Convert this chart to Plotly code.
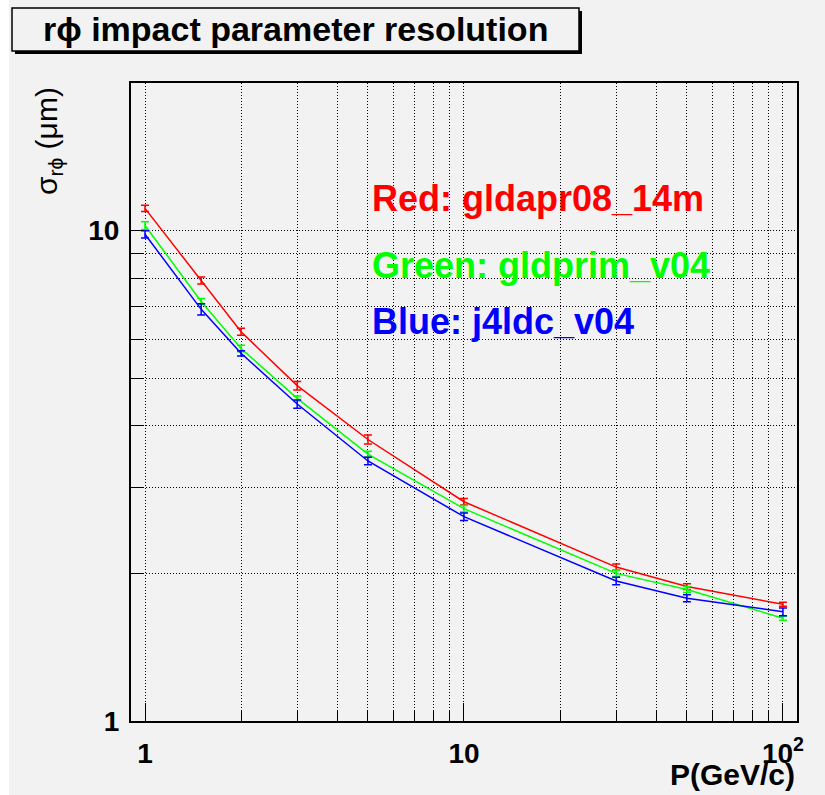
import math
import plotly.graph_objects as go

# Track momentum (GeV/c)
momentum = [1, 1.5, 2, 3, 5, 10, 30, 50, 100]

# r-phi impact parameter resolution (um) and its uncertainty per detector model
sigma_gldapr08_14m = [11.1, 7.91, 6.22, 4.83, 3.75, 2.80, 2.06, 1.88, 1.73]
err_gldapr08_14m = [0.16, 0.13, 0.10, 0.096, 0.08, 0.044, 0.03, 0.026, 0.017]

sigma_gldprim_v04 = [10.24, 7.17, 5.75, 4.55, 3.50, 2.71, 2.00, 1.855, 1.62]
err_gldprim_v04 = [0.19, 0.10, 0.09, 0.05, 0.047, 0.042, 0.03, 0.026, 0.015]

sigma_j4ldc_v04 = [9.83, 6.91, 5.62, 4.43, 3.39, 2.61, 1.93, 1.78, 1.67]
err_j4ldc_v04 = [0.165, 0.18, 0.07, 0.085, 0.06, 0.045, 0.035, 0.03, 0.03]

series = [
    ("Red: gldapr08_14m", sigma_gldapr08_14m, err_gldapr08_14m, "#ff0000"),
    ("Green: gldprim_v04", sigma_gldprim_v04, err_gldprim_v04, "#00ff00"),
    ("Blue: j4ldc_v04", sigma_j4ldc_v04, err_j4ldc_v04, "#0000ff"),
]

x_major = [1, 10, 100]
x_major_text = ["1", "10", "10<sup>2</sup>"]
x_minor = [2, 3, 4, 5, 6, 7, 8, 9, 20, 30, 40, 50, 60, 70, 80, 90]
y_major = [1, 10]
y_major_text = ["1", "10"]
y_minor = [2, 3, 4, 5, 6, 7, 8, 9]

W, H = 825, 795
L, R, T, B = 131, 28, 83, 74
PW, PH = W - L - R, H - T - B
CANVAS = "#f2f2f2"
FONT = "Liberation Sans, Arial, Helvetica, sans-serif"


def px(xp):
    return (xp - L) / PW


def py(yp):
    return (H - B - yp) / PH


fig = go.Figure()
for name, vals, errs, color in series:
    fig.add_trace(go.Scatter(
        x=momentum, y=vals, mode="lines", name=name,
        line=dict(color=color, width=1.5),
        error_y=dict(type="data", array=errs, visible=True,
                     color=color, thickness=1.5, width=4),
        showlegend=False,
    ))

grid_dash = "1px,2px"
fig.update_xaxes(
    type="log", range=[-0.0439, 2.044],
    tickmode="array", tickvals=x_major, ticktext=x_major_text,
    ticks="inside", ticklen=18, tickwidth=1, tickcolor="black",
    showgrid=True, gridcolor="black", gridwidth=1, griddash=grid_dash,
    minor=dict(tickmode="array", tickvals=x_minor, ticks="inside",
               ticklen=10, tickwidth=1, tickcolor="black",
               showgrid=True, gridcolor="black", gridwidth=1,
               griddash=grid_dash),
    showline=True, linecolor="black", linewidth=2, mirror=True,
    zeroline=False,
    tickfont=dict(family=FONT, size=28, color="black", weight="bold"),
    ticklabelstandoff=6,
)
fig.update_yaxes(
    type="log", range=[0, math.log10(20)],
    tickmode="array", tickvals=y_major, ticktext=y_major_text,
    ticks="inside", ticklen=13, tickwidth=1, tickcolor="black",
    showgrid=True, gridcolor="black", gridwidth=1, griddash=grid_dash,
    minor=dict(tickmode="array", tickvals=y_minor, ticks="inside",
               ticklen=12, tickwidth=1, tickcolor="black",
               showgrid=True, gridcolor="black", gridwidth=1,
               griddash=grid_dash),
    showline=True, linecolor="black", linewidth=2, mirror=True,
    zeroline=False,
    tickfont=dict(family=FONT, size=28, color="black", weight="bold"),
    ticklabelstandoff=4,
)

annotations = []
# series labels inside the frame
label_rows = [198, 265, 321]
for (name, _, _, color), yp in zip(series, label_rows):
    annotations.append(dict(
        text=name, x=px(370), y=py(yp), xref="paper", yref="paper",
        xanchor="left", yanchor="middle", showarrow=False,
        font=dict(family=FONT, size=36, color=color, weight="bold"),
    ))

# title
annotations.append(dict(
    text="r\u03d5 impact parameter resolution",
    x=px(295), y=py(29), xref="paper", yref="paper",
    xanchor="center", yanchor="middle", showarrow=False,
    font=dict(family=FONT, size=34, color="black", weight="bold"),
))
# axis titles
annotations.append(dict(
    text="\u03c3<sub>r\u03d5</sub> (\u03bcm)", textangle=-90,
    x=px(48), y=py(141), xref="paper", yref="paper",
    xanchor="center", yanchor="middle", showarrow=False,
    font=dict(family=FONT, size=30, color="black"),
))
annotations.append(dict(
    text="P(GeV/c)",
    x=px(797), y=py(774), xref="paper", yref="paper",
    xanchor="right", yanchor="middle", showarrow=False,
    font=dict(family=FONT, size=30, color="black", weight="bold"),
))

shapes = [
    # white strip at the left edge of the canvas
    dict(type="rect", xref="paper", yref="paper",
         x0=px(0), x1=px(9), y0=py(H), y1=py(0),
         fillcolor="white", line=dict(width=0), layer="below"),
    # title box with drop shadow
    dict(type="rect", xref="paper", yref="paper",
         x0=px(15), x1=px(582), y0=py(54), y1=py(11),
         fillcolor="black", line=dict(width=0), layer="above"),
    dict(type="rect", xref="paper", yref="paper",
         x0=px(12), x1=px(579), y0=py(51), y1=py(8),
         fillcolor=CANVAS, line=dict(color="black", width=1.5), layer="above"),
]

fig.update_layout(
    width=W, height=H, autosize=False,
    margin=dict(l=L, r=R, t=T, b=B, pad=0),
    paper_bgcolor=CANVAS, plot_bgcolor=CANVAS,
    annotations=annotations, shapes=shapes,
    showlegend=False,
)

fig.write_html("out.html")
